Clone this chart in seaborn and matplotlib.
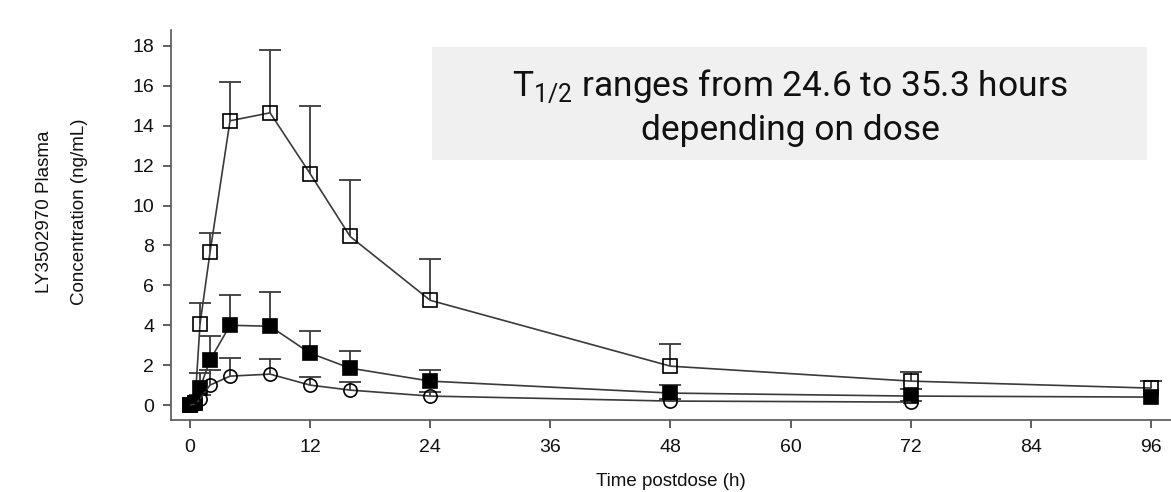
import matplotlib
matplotlib.use("Agg")
import matplotlib.pyplot as plt
import seaborn as sns
import pandas as pd
from matplotlib.patches import Rectangle

# ---- data ----
time_high = [0, 0.5, 1, 2, 4, 8, 12, 16, 24, 48, 72, 96]
conc_high = [0.0, 0.1, 4.05, 7.65, 14.25, 14.65, 11.6, 8.45, 5.25, 1.95, 1.2, 0.85]
err_high = [0.0, 0.0, 1.05, 0.95, 1.95, 3.15, 3.4, 2.85, 2.05, 1.1, 0.45, 0.35]

time_mid = [0, 0.5, 1, 2, 4, 8, 12, 16, 24, 48, 72, 96]
conc_mid = [0.0, 0.1, 0.85, 2.25, 4.0, 3.95, 2.6, 1.85, 1.2, 0.6, 0.45, 0.4]
err_mid = [0.0, 0.0, 0.75, 1.2, 1.5, 1.7, 1.1, 0.85, 0.55, 0.4, 0.35, 0.0]

time_low = [0, 0.5, 1, 2, 4, 8, 12, 16, 24, 48, 72]
conc_low = [0.0, 0.05, 0.3, 1.0, 1.45, 1.55, 1.0, 0.75, 0.45, 0.2, 0.15]
err_low = [0.0, 0.0, 0.2, 0.75, 0.9, 0.75, 0.4, 0.4, 0.2, 0.1, 0.05]

x_ticks = [0, 12, 24, 36, 48, 60, 72, 84, 96]
y_ticks = [0, 2, 4, 6, 8, 10, 12, 14, 16, 18]

sns.set_style("ticks")
plt.rcParams['font.family'] = ['Liberation Sans', 'DejaVu Sans']
plt.rcParams['mathtext.fontset'] = 'custom'
plt.rcParams['mathtext.rm'] = 'Roboto'

fig = plt.figure(figsize=(11.71, 4.92), dpi=100)
ax = fig.add_axes([0.146, 0.1463, 0.854, 0.7927])

line_color = "#3a3a3a"
series = [
    (time_high, conc_high, err_high, "s", "none"),
    (time_mid, conc_mid, err_mid, "s", "black"),
    (time_low, conc_low, err_low, "o", "none"),
]
for t, c, e, mk, fc in series:
    df = pd.DataFrame({"t": t, "c": c, "top": [ci + ei for ci, ei in zip(c, e)]})
    dfe = df[df["top"] > df["c"]]
    ax.vlines(dfe["t"], dfe["c"], dfe["top"], color=line_color, linewidth=1.3, zorder=2)
    ax.plot(dfe["t"], dfe["top"], linestyle="none", marker="_", markersize=16,
            markeredgewidth=1.3, color=line_color, zorder=2)
    sns.lineplot(data=df, x="t", y="c", ax=ax, color=line_color, linewidth=1.2,
                 marker=mk, markersize=9.5, markerfacecolor=fc,
                 markeredgecolor="black", markeredgewidth=1.2, zorder=3)

ax.set_xlim(-1.9, 98.0)
ax.set_ylim(-0.75, 18.8)
ax.set_xticks(x_ticks)
ax.set_yticks(y_ticks)
ax.tick_params(axis="both", labelsize=14, length=6, width=1.2, colors="#444444",
               direction="out")
for lbl in ax.get_xticklabels() + ax.get_yticklabels():
    lbl.set_color("#111111")
ax.tick_params(axis="x", pad=8)
ax.tick_params(axis="y", pad=6)
sns.despine(ax=ax)
for sp in ["left", "bottom"]:
    ax.spines[sp].set_linewidth(1.2)
    ax.spines[sp].set_color("#555555")

ax.set_xlabel("Time postdose (h)", fontsize=13.5, labelpad=12, color="#111111")
ax.set_ylabel("")

narrow = ['Liberation Sans Narrow', 'Liberation Sans', 'DejaVu Sans']
fig.text(45 / 1171, 1 - 212 / 492, "LY3502970 Plasma", rotation=90, ha="center",
         va="center", fontsize=13.5, family=narrow, color="#111111")
fig.text(80 / 1171, 1 - 212 / 492, "Concentration (ng/mL)", rotation=90, ha="center",
         va="center", fontsize=13.5, family=narrow, color="#111111")

# annotation box
box = Rectangle((432 / 1171, 1 - 160 / 492), (1147 - 432) / 1171, (160 - 47) / 492,
                transform=fig.transFigure, facecolor="#f0f0f0", edgecolor="none",
                zorder=5)
fig.patches.append(box)
fig.text(790 / 1171, 1 - 95 / 492, r"T$_{\mathrm{1/2}}$ ranges from 24.6 to 35.3 hours",
         ha="center", va="baseline", fontsize=25.5, family=["Roboto", "DejaVu Sans"],
         color="#111111", zorder=6)
fig.text(790 / 1171, 1 - 140 / 492, "depending on dose",
         ha="center", va="baseline", fontsize=25.5, family=["Roboto", "DejaVu Sans"],
         color="#111111", zorder=6)

fig.savefig("out.png", dpi=100)
